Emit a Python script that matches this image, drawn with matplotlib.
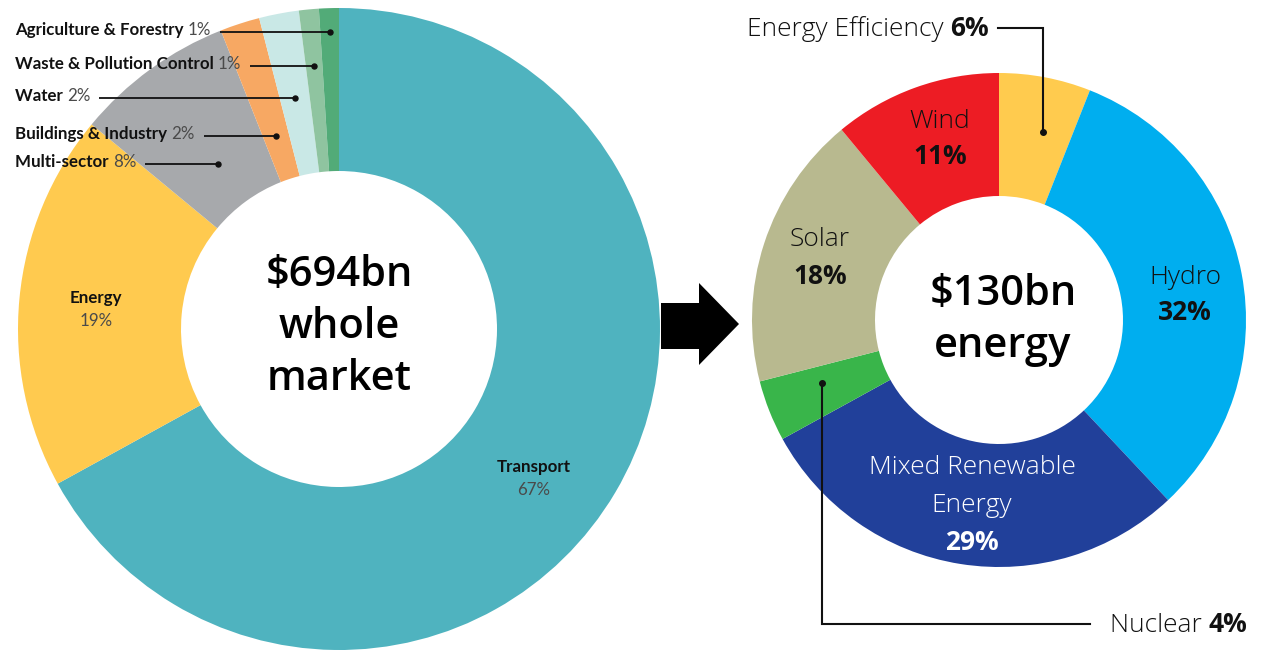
import numpy as np
import matplotlib
matplotlib.use("Agg")
import matplotlib.pyplot as plt
from matplotlib.patches import Polygon

# ---------------- data ----------------
left_labels = ["Transport", "Energy", "Multi-sector", "Buildings & Industry",
               "Water", "Waste & Pollution Control", "Agriculture & Forestry"]
left_values = [67, 19, 8, 2, 2, 1, 1]
left_colors = ["#4FB3BF", "#FFCA4F", "#A7A9AC", "#F7A863", "#C9E8E6", "#8FC4A0", "#52AB78"]
left_center = ["$694bn", "whole", "market"]

right_labels = ["Energy Efficiency", "Hydro", "Mixed Renewable\nEnergy", "Nuclear", "Solar", "Wind"]
right_values = [6, 32, 29, 4, 18, 11]
right_colors = ["#FFCB4E", "#00AEEF", "#21409A", "#39B54A", "#B8B98F", "#ED1C24"]
right_center = ["$130bn", "energy"]

W, H = 1264, 650
fig = plt.figure(figsize=(W / 100, H / 100), dpi=100)
ax = fig.add_axes([0, 0, 1, 1])

def Y(y):
    return H - y

# donut geometry (pixels)
LC = (339, Y(329)); LR = 321; Lr = 158
RC = (999, Y(320)); RR = 247; Rr = 124

ax.pie(left_values, colors=left_colors, startangle=90, counterclock=False,
       radius=LR, center=LC, wedgeprops=dict(width=LR - Lr, linewidth=0))
ax.pie(right_values, colors=right_colors, startangle=90, counterclock=False,
       radius=RR, center=RC, wedgeprops=dict(width=RR - Rr, linewidth=0))
ax.set_xlim(0, W); ax.set_ylim(0, H)
ax.set_aspect("equal")
ax.axis("off")

fig.canvas.draw()
renderer = fig.canvas.get_renderer()

def text_width(t):
    return t.get_window_extent(renderer=renderer).width

def mixed(x, y, parts):
    cx = x
    for s, kw in parts:
        t = ax.text(cx, y, s, va="center", ha="left", **kw)
        cx += text_width(t)
    return cx

def mid_angle(values, i):
    tot = sum(values)
    start = sum(values[:i]) / tot * 360
    return np.deg2rad(start + values[i] / tot * 360 / 2)

# ---------- left donut labels ----------
LBF = dict(family="Lato", fontweight="bold", fontsize=12.2, color="#111111")
LRF = dict(family="Lato", fontweight="normal", fontsize=12.2, color="#4a4a4a")
dot_r = {6: 299, 5: 266, 4: 237, 3: 205, 2: 206}
for i in [6, 5, 4, 3, 2]:
    a = mid_angle(left_values, i)
    dx = LC[0] + dot_r[i] * np.sin(a)
    dy = LC[1] + dot_r[i] * np.cos(a) - 1.5
    xe = mixed(15, dy + 1.5, [(left_labels[i] + " ", LBF), (f"{left_values[i]}%", LRF)])
    ax.plot([xe + 9, dx], [dy, dy], color="#111111", lw=1.3, solid_capstyle="butt")
    ax.plot(dx, dy, "o", color="#111111", ms=3.6)

ax.text(96, Y(298), left_labels[1], ha="center", va="center", **LBF)
ax.text(96, Y(321), f"{left_values[1]}%", ha="center", va="center", **LRF)
ax.text(534, Y(467), left_labels[0], ha="center", va="center", **LBF)
ax.text(534, Y(490), f"{left_values[0]}%", ha="center", va="center", **LRF)

CF = dict(family="Open Sans", fontweight="semibold", fontsize=30, color="black",
          ha="center", va="center")
for k, s in enumerate(left_center):
    ax.text(339, Y(275 + 52 * k), s, **CF)
for k, s in enumerate(right_center):
    ax.text(1003, Y(294 + 52 * k), s, **CF)

# ---------- arrow ----------
arrow = Polygon([(661, Y(303)), (699, Y(303)), (699, Y(283)), (739, Y(324)),
                 (699, Y(365)), (699, Y(349)), (661, Y(349))],
                closed=True, facecolor="black", edgecolor="none", zorder=3)
ax.add_patch(arrow)

# ---------- right donut labels ----------
RLF = dict(family="Open Sans", fontweight="light", fontsize=19, color="#111111")
RBF = dict(family="Open Sans", fontweight="bold", fontsize=19, color="#111111")

ax.text(940, Y(121), right_labels[5], ha="center", va="center", **RLF)
ax.text(940, Y(157), f"{right_values[5]}%", ha="center", va="center", **RBF)
ax.text(820, Y(240), right_labels[4], ha="center", va="center", **RLF)
ax.text(820, Y(276), f"{right_values[4]}%", ha="center", va="center", **RBF)
ax.text(1185, Y(277), right_labels[1], ha="center", va="center", **RLF)
ax.text(1185, Y(313), f"{right_values[1]}%", ha="center", va="center", **RBF)
mixed_lines = right_labels[2].split("\n")
ax.text(972, Y(468), mixed_lines[0], ha="center", va="center", **{**RLF, "color": "white"})
ax.text(972, Y(505), mixed_lines[1], ha="center", va="center", **{**RLF, "color": "white"})
ax.text(972, Y(542), f"{right_values[2]}%", ha="center", va="center", **{**RBF, "color": "white"})

# Energy efficiency callout
xe = mixed(747, Y(29), [(right_labels[0] + " ", RLF), (f"{right_values[0]}%", RBF)])
ax.plot([xe + 9, 1043, 1043], [Y(28), Y(28), Y(132)], color="#111111", lw=1.5,
        solid_joinstyle="miter")
ax.plot(1043, Y(132), "o", color="#111111", ms=4)

# Nuclear callout
ax.plot([822, 822, 1090], [Y(383), Y(624), Y(624)], color="#111111", lw=1.5,
        solid_joinstyle="miter")
ax.plot(822, Y(383), "o", color="#111111", ms=4)
mixed(1110, Y(625), [(right_labels[3] + " ", RLF), (f"{right_values[3]}%", RBF)])

fig.savefig("out.png", dpi=100)
